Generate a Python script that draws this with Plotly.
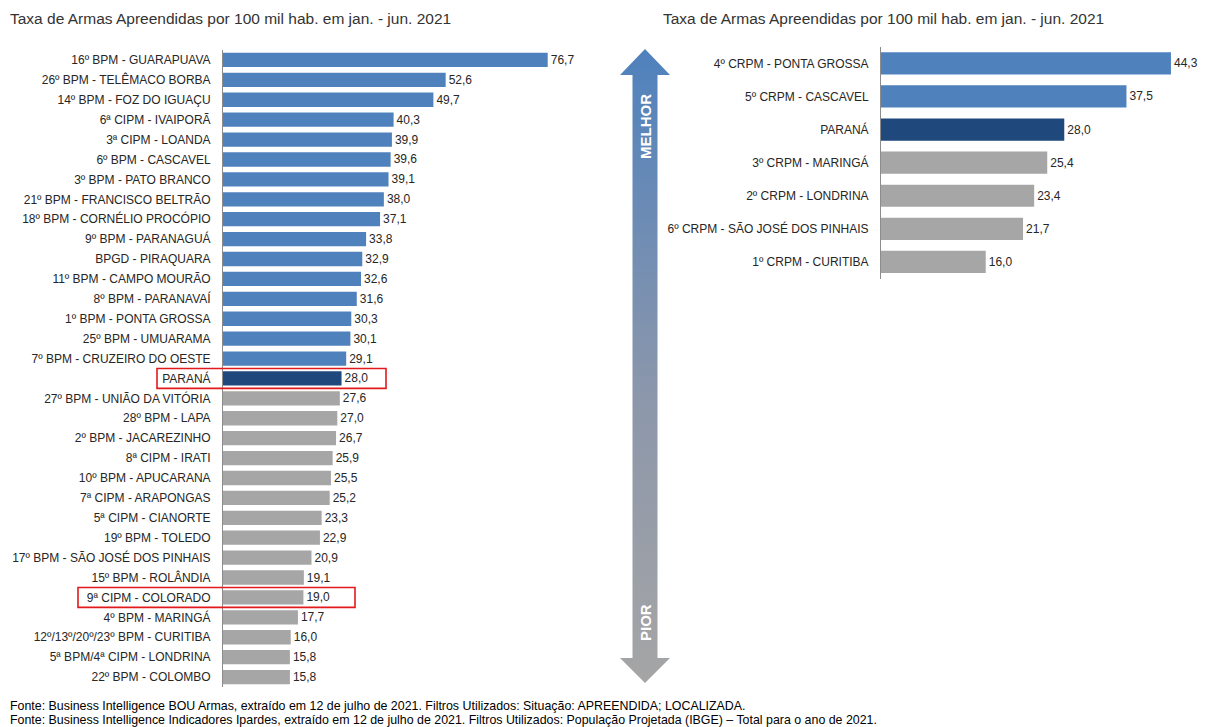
import plotly.graph_objects as go

# Batalhões / companhias (left panel), ordered from highest to lowest rate
units = [
    "16º BPM - GUARAPUAVA", "26º BPM - TELÊMACO BORBA", "14º BPM - FOZ DO IGUAÇU",
    "6ª CIPM - IVAIPORÃ", "3ª CIPM - LOANDA", "6º BPM - CASCAVEL", "3º BPM - PATO BRANCO",
    "21º BPM - FRANCISCO BELTRÃO", "18º BPM - CORNÉLIO PROCÓPIO", "9º BPM - PARANAGUÁ",
    "BPGD - PIRAQUARA", "11º BPM - CAMPO MOURÃO", "8º BPM - PARANAVAÍ",
    "1º BPM - PONTA GROSSA", "25º BPM - UMUARAMA", "7º BPM - CRUZEIRO DO OESTE",
    "PARANÁ", "27º BPM - UNIÃO DA VITÓRIA", "28º BPM - LAPA", "2º BPM - JACAREZINHO",
    "8ª CIPM - IRATI", "10º BPM - APUCARANA", "7ª CIPM - ARAPONGAS", "5ª CIPM - CIANORTE",
    "19º BPM - TOLEDO", "17º BPM - SÃO JOSÉ DOS PINHAIS", "15º BPM - ROLÂNDIA",
    "9ª CIPM - COLORADO", "4º BPM - MARINGÁ", "12º/13º/20º/23º BPM - CURITIBA",
    "5ª BPM/4ª CIPM - LONDRINA", "22º BPM - COLOMBO",
]
unit_rates = [
    76.7, 52.6, 49.7, 40.3, 39.9, 39.6, 39.1, 38.0, 37.1, 33.8, 32.9, 32.6, 31.6,
    30.3, 30.1, 29.1, 28.0, 27.6, 27.0, 26.7, 25.9, 25.5, 25.2, 23.3, 22.9, 20.9,
    19.1, 19.0, 17.7, 16.0, 15.8, 15.8,
]

# Comandos regionais (right panel)
regions = [
    "4º CRPM - PONTA GROSSA", "5º CRPM - CASCAVEL", "PARANÁ", "3º CRPM - MARINGÁ",
    "2º CRPM - LONDRINA", "6º CRPM - SÃO JOSÉ DOS PINHAIS", "1º CRPM - CURITIBA",
]
region_rates = [44.3, 37.5, 28.0, 25.4, 23.4, 21.7, 16.0]

state_label = "PARANÁ"
highlighted = [state_label, "9ª CIPM - COLORADO"]

title_text = "Taxa de Armas Apreendidas por 100 mil hab. em jan. - jun. 2021"
footer_lines = [
    "Fonte: Business Intelligence BOU Armas, extraído em 12 de julho de 2021. "
    "Filtros Utilizados: Situação: APREENDIDA; LOCALIZADA.",
    "Fonte: Business Intelligence Indicadores Ipardes, extraído em 12 de julho de 2021. "
    "Filtros Utilizados: População Projetada (IBGE) – Total para o ano de 2021.",
]

BLUE = "#4f81bd"
DARK = "#1f497d"
GRAY = "#a6a6a6"
TEXT = "#262626"
FONT = "Liberation Sans, Arial, sans-serif"
W, H = 1205, 727


def bar_colors(labels):
    ref = labels.index(state_label)
    return [BLUE if i < ref else DARK if i == ref else GRAY for i in range(len(labels))]


fig = go.Figure()

fig.add_trace(go.Bar(
    x=unit_rates, y=units, orientation="h", width=0.72,
    marker=dict(color=bar_colors(units), line=dict(width=0)),
    texttemplate="%{x:.1f}", textposition="outside", cliponaxis=False,
    textfont=dict(size=12, color=TEXT, family=FONT),
    xaxis="x", yaxis="y", showlegend=False, hoverinfo="skip",
))

fig.add_trace(go.Bar(
    x=region_rates, y=regions, orientation="h", width=0.67,
    marker=dict(color=bar_colors(regions), line=dict(width=0)),
    texttemplate="%{x:.1f}", textposition="outside", cliponaxis=False,
    textfont=dict(size=12, color=TEXT, family=FONT),
    xaxis="x2", yaxis="y2", showlegend=False, hoverinfo="skip",
))

# "MELHOR / PIOR" arrow drawn in a pixel-sized overlay axis
ax_x = [645, 670, 657.5, 657.5, 670, 645, 620, 632.5, 632.5, 620, 645]
ax_y_px = [49, 75, 75, 658, 658, 683, 658, 658, 75, 75, 49]
fig.add_trace(go.Scatter(
    x=ax_x, y=[H - p for p in ax_y_px], mode="lines", fill="toself",
    line=dict(width=0, color="rgba(0,0,0,0)"),
    fillgradient=dict(type="vertical",
                      colorscale=[[0, "#a5a5a5"], [0.45, "#8c97ab"], [1, "#4f81bd"]]),
    xaxis="x3", yaxis="y3", showlegend=False, hoverinfo="skip",
))

axis_common = dict(showgrid=False, zeroline=False, showticklabels=False, fixedrange=True)
ycat_common = dict(
    type="category", showgrid=False, zeroline=False, showline=True,
    linecolor="#8c8c8c", linewidth=1, ticks="", ticklabelstandoff=9,
    tickfont=dict(size=12, color=TEXT, family=FONT), fixedrange=True,
)

fig.update_layout(
    width=W, height=H,
    margin=dict(l=0, r=0, t=0, b=0),
    paper_bgcolor="white", plot_bgcolor="rgba(0,0,0,0)",
    separators=",.",
    font=dict(family=FONT, color=TEXT),
    xaxis=dict(domain=[223 / W, 604 / W], range=[0, 90], **axis_common),
    yaxis=dict(domain=[1 - 687 / H, 1 - 50 / H], categoryorder="array",
               categoryarray=units, range=[len(units) - 0.5, -0.5], **ycat_common),
    xaxis2=dict(domain=[881 / W, 1.0], range=[0, 49.5], anchor="y2", **axis_common),
    yaxis2=dict(domain=[1 - 278.5 / H, 1 - 46.8 / H], categoryorder="array",
                categoryarray=regions, range=[len(regions) - 0.5, -0.5],
                anchor="x2", **ycat_common),
    xaxis3=dict(domain=[0, 1], range=[0, W], anchor="y3", visible=False, fixedrange=True),
    yaxis3=dict(domain=[0, 1], range=[0, H], anchor="x3", visible=False, fixedrange=True),
)

# Red frames around the state row and the highlighted company
frame_left = {state_label: 157 / W, "9ª CIPM - COLORADO": 78 / W}
frame_right = {state_label: 386 / W, "9ª CIPM - COLORADO": 355 / W}
for name in highlighted:
    idx = units.index(name)
    fig.add_shape(type="rect", xref="paper", yref="y",
                  x0=frame_left[name], x1=frame_right[name],
                  y0=idx - 0.5, y1=idx + 0.5,
                  line=dict(color="#e31a1c", width=1.6), fillcolor="rgba(0,0,0,0)")

annotations = [
    dict(text=title_text, x=8 / W, y=1 - 18 / H, xanchor="left", yanchor="middle",
         font=dict(size=15.5, color="#333333")),
    dict(text=title_text, x=661 / W, y=1 - 18 / H, xanchor="left", yanchor="middle",
         font=dict(size=15.5, color="#333333")),
    dict(text=footer_lines[0], x=8 / W, y=1 - 706 / H, xanchor="left", yanchor="middle",
         font=dict(size=12.4, color="#000000")),
    dict(text=footer_lines[1], x=8 / W, y=1 - 720 / H, xanchor="left", yanchor="middle",
         font=dict(size=12.4, color="#000000")),
    dict(text="<b>MELHOR</b>", x=645, y=H - 127, xref="x3", yref="y3",
         textangle=-90, showarrow=False, font=dict(size=15, color="white")),
    dict(text="<b>PIOR</b>", x=645, y=H - 623, xref="x3", yref="y3",
         textangle=-90, showarrow=False, font=dict(size=15, color="white")),
]
for a in annotations:
    a.setdefault("xref", "paper")
    a.setdefault("yref", "paper")
    a.setdefault("showarrow", False)
    a["font"].setdefault("family", FONT)
    fig.add_annotation(**a)

fig.write_html("out.html")
